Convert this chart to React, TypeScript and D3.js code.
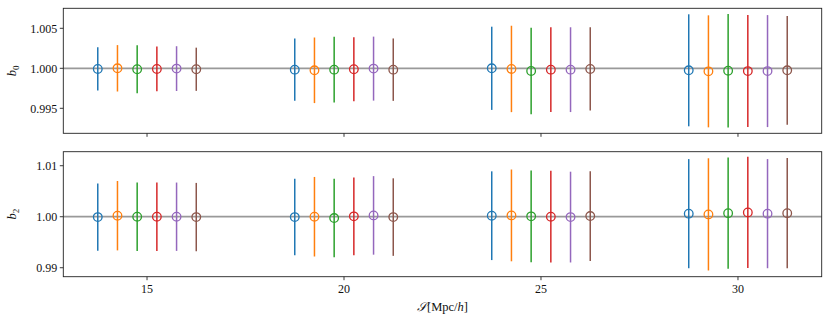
import * as d3 from "d3";

// separations (x groups) and the 0.5 offsets of the six runs
const separations = [15, 20, 25, 30];
const runOffsets = [-1.25, -0.75, -0.25, 0.25, 0.75, 1.25];
const colors = ["#1f77b4", "#ff7f0e", "#2ca02c", "#d62728", "#9467bd", "#8c564b"];

// b0: one row per run, one value per separation
const b0Mean = [
  [0.99992, 0.99983, 1.00000, 0.99975],
  [1.00000, 0.99975, 0.99992, 0.99962],
  [0.99988, 0.99983, 0.99967, 0.99970],
  [0.99992, 0.99988, 0.99983, 0.99965],
  [0.99996, 0.99996, 0.99983, 0.99965],
  [0.99988, 0.99983, 0.99992, 0.99975],
];
const b0Err = [
  [0.0027, 0.0039, 0.0052, 0.0070],
  [0.0029, 0.0041, 0.0054, 0.0070],
  [0.0030, 0.0041, 0.0054, 0.0071],
  [0.0028, 0.0040, 0.0053, 0.0070],
  [0.0028, 0.0040, 0.0053, 0.0070],
  [0.0027, 0.0039, 0.0052, 0.0068],
];

// b2
const b2Mean = [
  [0.99993, 0.99993, 1.00020, 1.00060],
  [1.00020, 1.00000, 1.00026, 1.00046],
  [1.00000, 0.99974, 1.00007, 1.00070],
  [1.00000, 1.00007, 1.00000, 1.00085],
  [1.00000, 1.00026, 0.99993, 1.00060],
  [0.99993, 0.99993, 1.00013, 1.00070],
];
const b2Err = [
  [0.0066, 0.0075, 0.0087, 0.0107],
  [0.0068, 0.0078, 0.0090, 0.0110],
  [0.0067, 0.0077, 0.0090, 0.0109],
  [0.0067, 0.0076, 0.0090, 0.0109],
  [0.0067, 0.0077, 0.0089, 0.0107],
  [0.0067, 0.0076, 0.0088, 0.0108],
];

const b0Ticks = [0.995, 1.0, 1.005];
const b2Ticks = [0.99, 1.0, 1.01];
const xTicks = [15, 20, 25, 30];

const width = 830;
const height = 324;
const left = 63.3;
const right = 821.7;
const font = "'Liberation Serif', 'DejaVu Serif', serif";

const x = d3.scaleLinear().domain([12.875, 32.125]).range([left, right]);

type PanelProps = {
  top: number;
  bottom: number;
  domain: [number, number];
  ticks: number[];
  fmt: string;
  mean: number[][];
  err: number[][];
  label: string;
  showX: boolean;
};

const Panel = ({ top, bottom, domain, ticks, fmt, mean, err, label, showX }: PanelProps) => {
  const y = d3.scaleLinear().domain(domain).range([bottom, top]);
  const f = d3.format(fmt);
  return (
    <g>
      <line x1={left} x2={right} y1={y(1)} y2={y(1)} stroke="#999" strokeWidth={1.8} />
      {mean.map((row, s) =>
        row.map((m, g) => {
          const cx = x(separations[g] + runOffsets[s]);
          return (
            <g key={`${s}-${g}`} stroke={colors[s]}>
              <line x1={cx} x2={cx} y1={y(m - err[s][g])} y2={y(m + err[s][g])} strokeWidth={1.5} />
              <circle cx={cx} cy={y(m)} r={4.3} fill="none" strokeWidth={1.3} />
            </g>
          );
        })
      )}
      <rect x={left} y={top} width={right - left} height={bottom - top} fill="none" stroke="#222" strokeWidth={0.9} />
      {ticks.map((t) => (
        <g key={t} transform={`translate(${left},${y(t)})`}>
          <line x1={-3.5} x2={0} stroke="#222" strokeWidth={0.9} />
          <text x={-6} dy="0.35em" textAnchor="end" fontSize={12} fontFamily={font} fill="#111">
            {f(t)}
          </text>
        </g>
      ))}
      {xTicks.map((t) => (
        <g key={t} transform={`translate(${x(t)},${bottom})`}>
          <line y1={0} y2={3.5} stroke="#222" strokeWidth={0.9} />
          {showX && (
            <text y={16} textAnchor="middle" fontSize={12} fontFamily={font} fill="#111">
              {t}
            </text>
          )}
        </g>
      ))}
      <text
        transform={`translate(16,${(top + bottom) / 2}) rotate(-90)`}
        textAnchor="middle"
        fontSize={12.5}
        fontFamily={font}
        fill="#111"
      >
        <tspan fontStyle="italic">b</tspan>
        <tspan fontSize={9} dy={3}>{label}</tspan>
      </text>
    </g>
  );
};

const App = () => (
  <div style={{ position: "absolute", left: 0, top: 0 }}>
    <svg width={width} height={height} style={{ display: "block", background: "#fff" }}>
      <Panel top={8.3} bottom={133.3} domain={[0.991875, 1.0075]} ticks={b0Ticks} fmt=".3f"
        mean={b0Mean} err={b0Err} label="0" showX={false} />
      <Panel top={151.7} bottom={276.7} domain={[0.98824, 1.01275]} ticks={b2Ticks} fmt=".2f"
        mean={b2Mean} err={b2Err} label="2" showX={true} />
      <text x={(left + right) / 2} y={311} textAnchor="middle" fontSize={12.5} fontFamily={font} fill="#111">
        <tspan fontStyle="italic">𝒮</tspan>
        <tspan>[Mpc/</tspan>
        <tspan fontStyle="italic">h</tspan>
        <tspan>]</tspan>
      </text>
    </svg>
  </div>
);

export default App;
